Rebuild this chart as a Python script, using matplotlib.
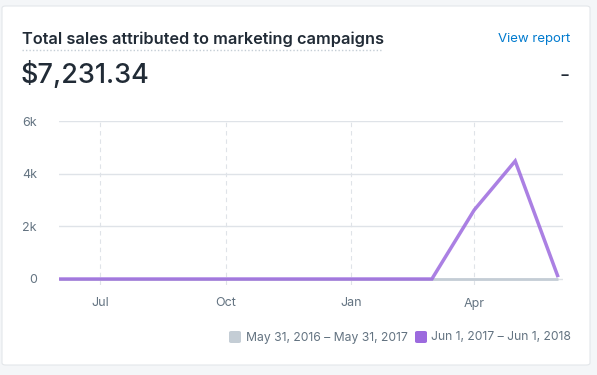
import matplotlib
matplotlib.use("Agg")
import matplotlib.pyplot as plt
from matplotlib.patches import FancyBboxPatch
from matplotlib.lines import Line2D
from datetime import date, timedelta

plt.rcParams['font.family'] = ['Inter', 'DejaVu Sans']

# data
months = [date(2017, m, 1) for m in range(6, 13)] + [date(2018, m, 1) for m in range(1, 7)]
current_sales = [0, 0, 0, 0, 0, 0, 0, 0, 0, 0, 2620, 4480, 131.34]
previous_sales = [0, 0, 0, 0, 0, 0, 0, 0, 0, 0, 0, 0, 0]

title = "Total sales attributed to marketing campaigns"
total_label = "$7,231.34"
link_label = "View report"
legend_labels = ["May 31, 2016 \u2013 May 31, 2017", "Jun 1, 2017 \u2013 Jun 1, 2018"]
y_ticks = [0, 2000, 4000, 6000]
y_tick_labels = ["0", "2k", "4k", "6k"]
x_ticks = [date(2017, 7, 1), date(2017, 10, 1), date(2018, 1, 1), date(2018, 4, 1)]
x_tick_labels = ["Jul", "Oct", "Jan", "Apr"]

purple = "#9c6ade"
grey = "#c4cdd5"
ink = "#212b36"
ink_light = "#637381"
grid = "#dfe3e8"

W, H = 597, 375
fig = plt.figure(figsize=(W / 100, H / 100), dpi=100)
fig.patch.set_facecolor("#f4f6f8")

def fx(px):
    return px / W

def fy(py):
    return 1 - py / H

# card
card = FancyBboxPatch((fx(2), fy(365)), fx(588), (365 - 6) / H,
                      boxstyle="round,pad=0,rounding_size=0.006",
                      transform=fig.transFigure, facecolor="white",
                      edgecolor="#e3e6ea", linewidth=0.8, zorder=-5)
fig.patches.append(card)

# header
fig.text(fx(22), fy(39), title, fontsize=11.75, fontweight="semibold",
         color=ink, va="center", ha="left")
fig.add_artist(Line2D([fx(22), fx(381)], [fy(50), fy(50)], transform=fig.transFigure,
                      color=grey, linewidth=1, linestyle=(0, (1, 1.5))))
fig.text(fx(570), fy(39), link_label, fontsize=9.5, color="#007ace",
         va="center", ha="right")
fig.text(fx(21), fy(75), total_label, fontsize=19.5, fontweight="medium", color=ink,
         va="center", ha="left")
fig.text(fx(570), fy(76), "-", fontsize=16, color=ink, va="center", ha="right")

# chart
ax = fig.add_axes([fx(59), fy(285), fx(563 - 59), (285 - 121) / H])
ax.set_zorder(2)
ax.patch.set_alpha(0)
ax.plot(months, previous_sales, color=grey, linewidth=2, zorder=2, solid_capstyle="butt")
ax.plot(months, current_sales, color=purple, linewidth=2.5, zorder=3, alpha=0.85,
        solid_joinstyle="miter")

ax.set_xlim(date(2017, 6, 1), date(2018, 6, 1) + timedelta(days=4))
ax.set_ylim(-228, 6000)
ax.set_yticks(y_ticks)
ax.set_yticklabels(y_tick_labels)
ax.set_xticks(x_ticks)
ax.set_xticklabels(x_tick_labels)

for v in y_ticks:
    ax.axhline(v, color=grid, linewidth=1, zorder=1)
for d in x_ticks:
    ax.axvline(d, color=grid, linewidth=0.8, linestyle=(0, (4, 3.5)), zorder=1)

for s in ax.spines.values():
    s.set_visible(False)
ax.tick_params(axis="both", length=0, colors=ink_light, labelsize=9)
ax.tick_params(axis="y", pad=16)
ax.tick_params(axis="x", pad=9)

# legend
sq = 12
colors = [grey, purple]
text_x = [246, 431]
square_x = [229, 415]
for lab, c, sx, tx in zip(legend_labels, colors, square_x, text_x):
    p = FancyBboxPatch((fx(sx), fy(343)), fx(sq), sq / H,
                       boxstyle="round,pad=0,rounding_size=0.004",
                       transform=fig.transFigure, facecolor=c, edgecolor="none")
    fig.patches.append(p)
    fig.text(fx(tx), fy(337.5), lab, fontsize=8.75, color=ink_light,
             va="center", ha="left")

fig.savefig("out.png", dpi=100, facecolor=fig.get_facecolor())
